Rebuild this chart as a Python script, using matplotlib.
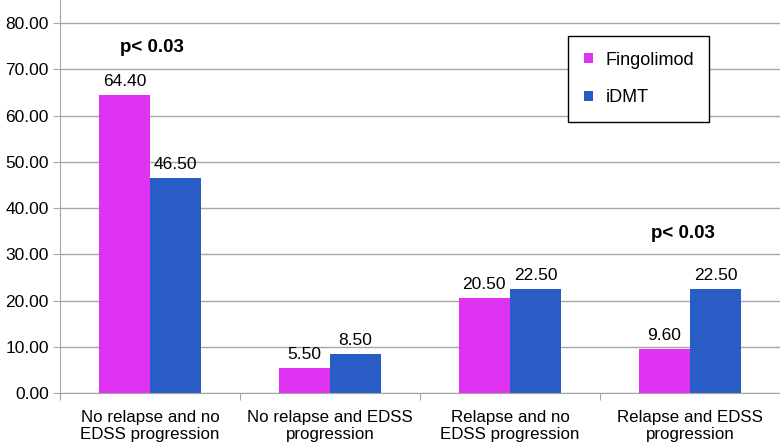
import numpy as np
import matplotlib.pyplot as plt

plt.rcParams['font.family'] = ['Liberation Sans', 'DejaVu Sans']

categories = ['No relapse and no\nEDSS progression', 'No relapse and EDSS\nprogression',
              'Relapse and no\nEDSS progression', 'Relapse and EDSS\nprogression']
fingolimod = [64.40, 5.50, 20.50, 9.60]
idmt = [46.50, 8.50, 22.50, 22.50]
series_names = ['Fingolimod', 'iDMT']
colors = ['#E033F2', '#2A5CC6']

fig = plt.figure(figsize=(7.8, 4.48), dpi=100)
ax = fig.add_axes([60 / 780, 55 / 448, 720 / 780, 393 / 448])

x = np.arange(len(categories))
w = 0.285
b1 = ax.bar(x - w / 2, fingolimod, w, color=colors[0], label=series_names[0])
b2 = ax.bar(x + w / 2, idmt, w, color=colors[1], label=series_names[1])

for bars, vals in [(b1, fingolimod), (b2, idmt)]:
    for r, v in zip(bars, vals):
        ax.text(r.get_x() + r.get_width() / 2, v + 1.3, '%.2f' % v,
                ha='center', va='bottom', fontsize=12.5)

# significance notes
ax.text(0.01, 74.8, 'p< 0.03', ha='center', va='center', fontsize=13.5, fontweight='bold')
ax.text(2.96, 34.6, 'p< 0.03', ha='center', va='center', fontsize=13.5, fontweight='bold')

ax.set_xlim(-0.5, 3.5)
ax.set_ylim(0, 85)
ax.set_yticks(np.arange(0, 81, 10))
ax.set_yticklabels(['%.2f' % t for t in np.arange(0, 81, 10)], fontsize=12.5)
ax.yaxis.grid(True, color='#A6A6A6', linewidth=1)
ax.set_axisbelow(True)

ax.set_xticks(np.arange(-0.5, 3.6, 1))
ax.set_xticklabels([])
ax.set_xticks(x, minor=True)
ax.set_xticklabels(categories, minor=True, fontsize=12.2, linespacing=1.2)
ax.tick_params(axis='x', which='minor', length=0, pad=12)
ax.tick_params(axis='x', which='major', length=5, color='#A6A6A6')
ax.tick_params(axis='y', length=5, color='#A6A6A6', pad=3)

for s in ['top', 'right']:
    ax.spines[s].set_visible(False)
for s in ['left', 'bottom']:
    ax.spines[s].set_color('#A6A6A6')

leg = ax.legend(loc='upper left', bbox_to_anchor=(0.706, 0.908), fontsize=13,
                frameon=True, fancybox=False, edgecolor='black', framealpha=1,
                handlelength=0.5, handleheight=0.5, labelspacing=1.15,
                borderpad=0.85, borderaxespad=0, handletextpad=0.7)
leg.get_frame().set_linewidth(1)

fig.savefig('out.png', dpi=100)
